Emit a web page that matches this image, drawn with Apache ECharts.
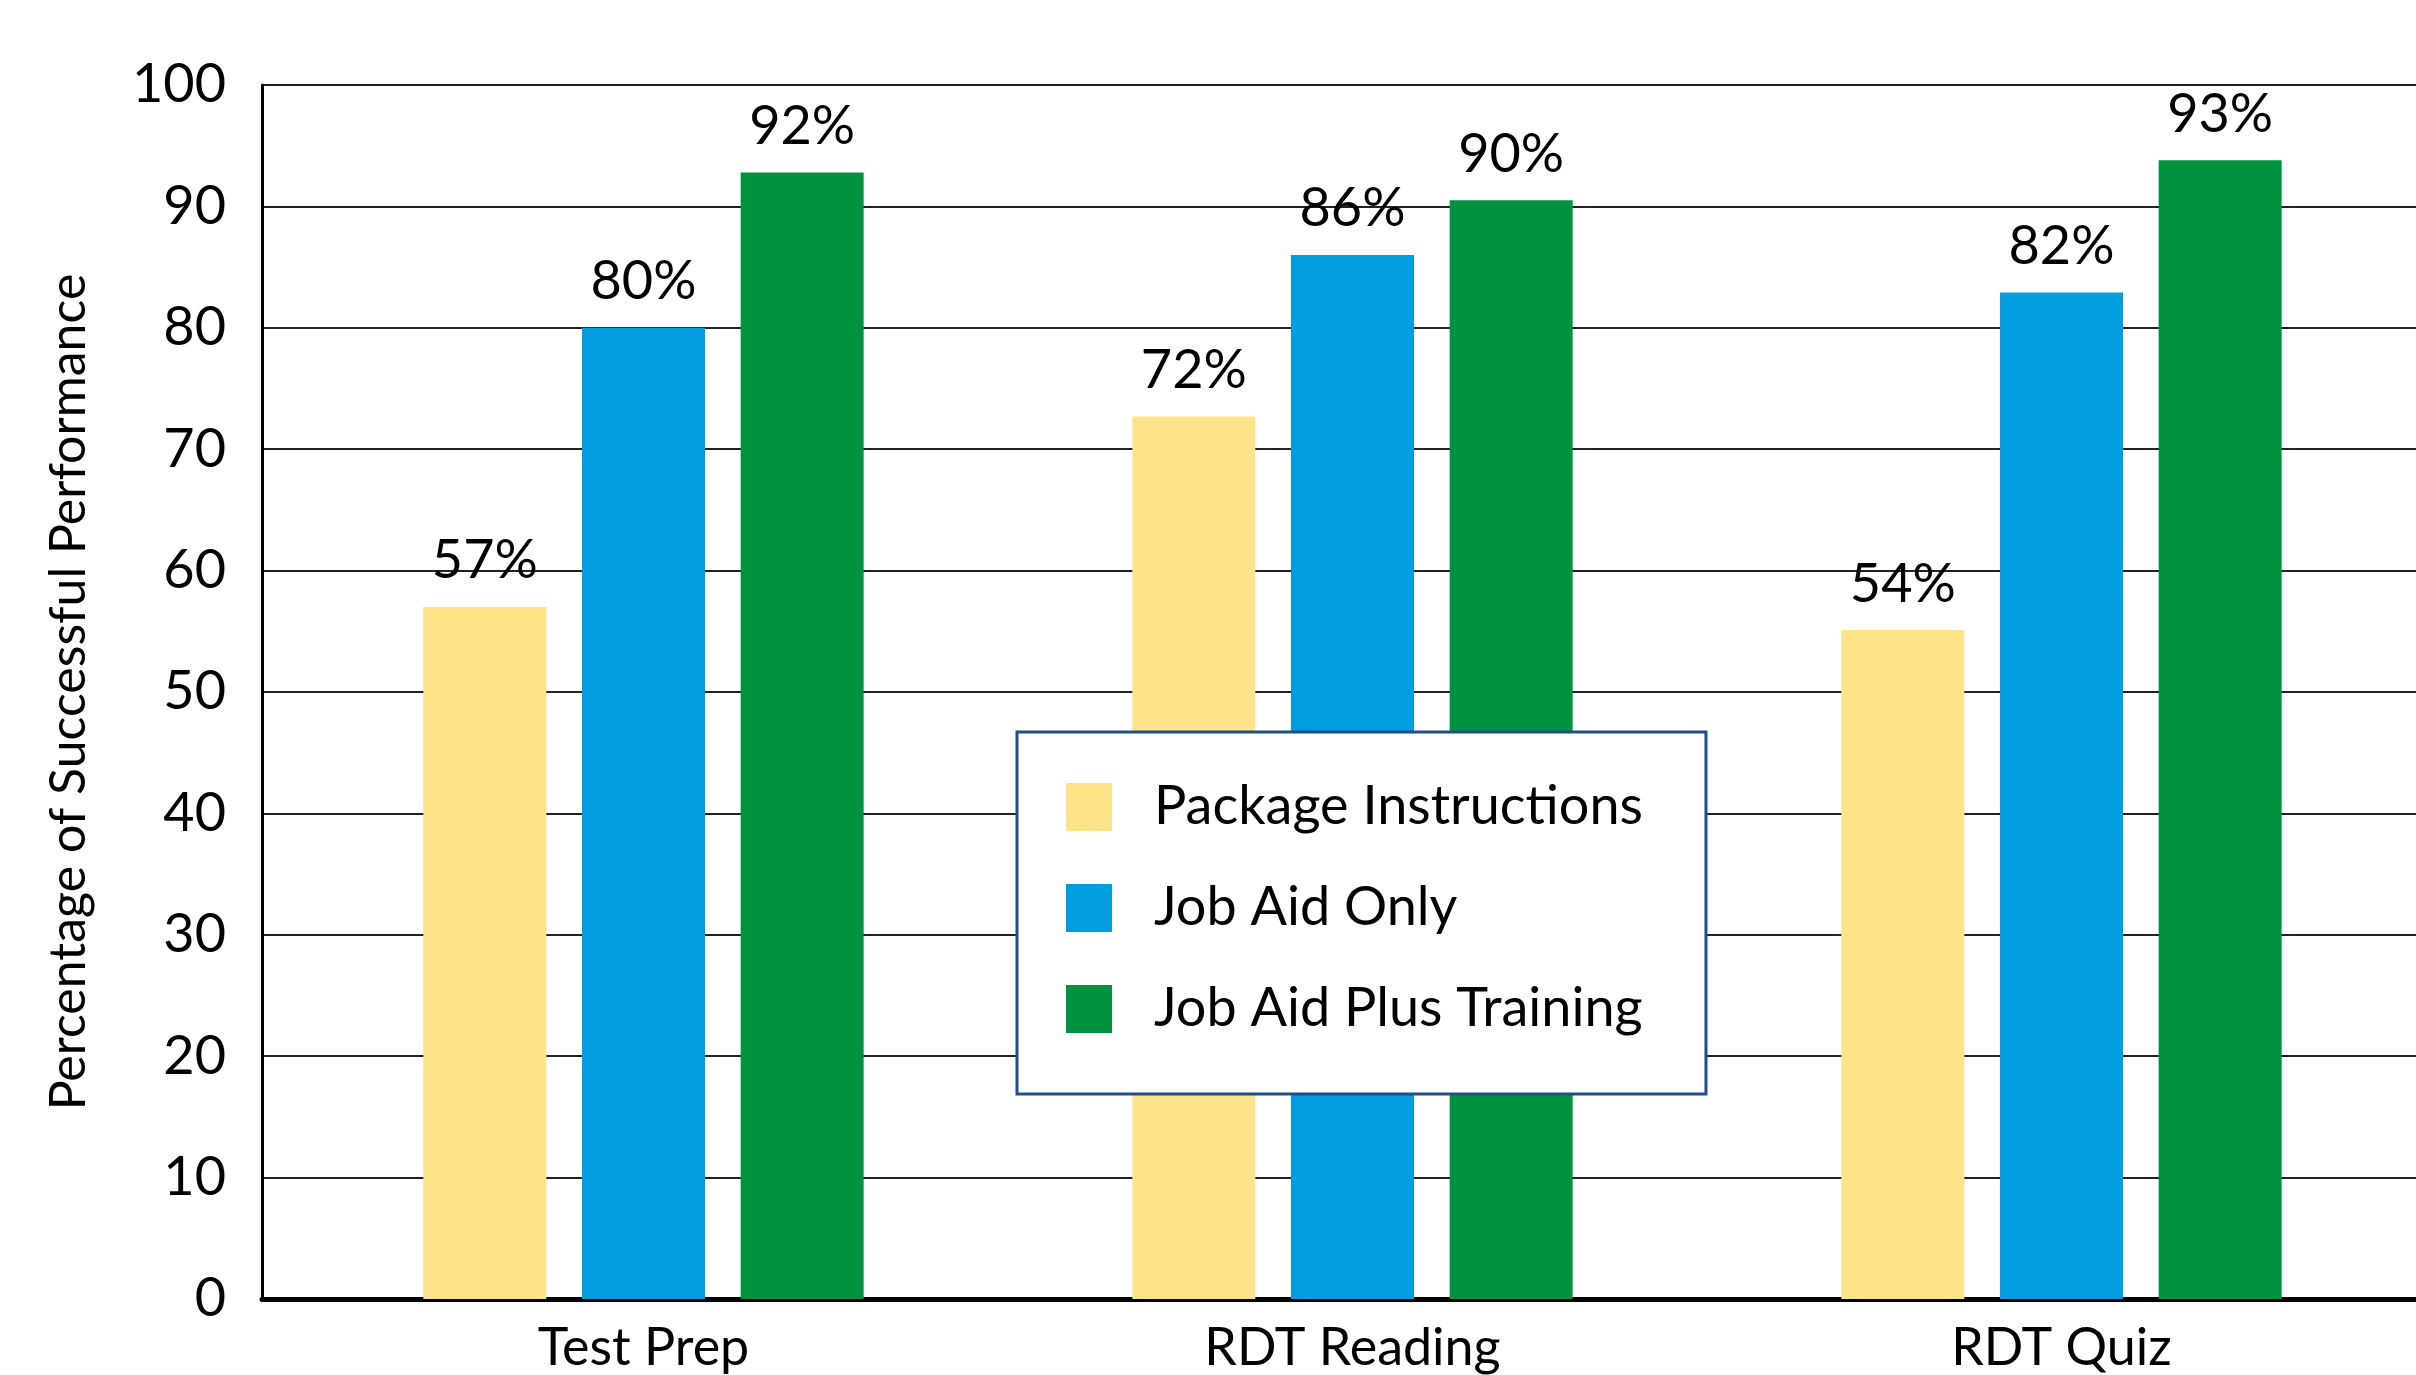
<!DOCTYPE html>
<html>
<head>
<meta charset="utf-8">
<script src="https://cdn.jsdelivr.net/npm/echarts@6/dist/echarts.min.js"></script>
<style>
html, body { margin: 0; padding: 0; background: #fff; }
#main { width: 2416px; height: 1375px; }
</style>
</head>
<body>
<div id="main"></div>
<script>
var myChart = echarts.init(document.getElementById('main'));

var categories = ['Test Prep', 'RDT Reading', 'RDT Quiz'];
var seriesNames = ['Package Instructions', 'Job Aid Only', 'Job Aid Plus Training'];
// bar heights
var packageValues = [57, 72.7, 55.1];
var jobAidValues = [80, 86, 82.9];
var trainingValues = [92.8, 90.5, 93.8];
// printed value labels
var packageLabels = ['57%', '72%', '54%'];
var jobAidLabels = ['80%', '86%', '82%'];
var trainingLabels = ['92%', '90%', '93%'];
var colors = ['#FEE388', '#019DDE', '#00933F'];

var font = 'Lato, "Open Sans", sans-serif';

function barSeries(name, values, labels, color) {
  return {
    name: name,
    type: 'bar',
    xAxisIndex: 0,
    yAxisIndex: 0,
    data: values,
    barWidth: 123,
    barGap: '29%',
    itemStyle: { color: color },
    label: {
      show: true,
      position: 'top',
      distance: 19,
      color: '#000',
      fontFamily: font,
      fontSize: 54,
      formatter: function (p) { return labels[p.dataIndex]; }
    }
  };
}

var option = {
  animation: false,
  backgroundColor: '#fff',
  textStyle: { fontFamily: font },
  grid: [
    { left: 289, width: 2144, top: 85, bottom: 76 },
    { left: 262, right: 0, top: 85, bottom: 76 }
  ],
  legend: {
    orient: 'vertical',
    left: 1017,
    top: 732,
    data: seriesNames,
    icon: 'rect',
    itemWidth: 46,
    itemHeight: 48,
    itemGap: 47,
    padding: [48, 63, 58, 49],
    backgroundColor: '#fff',
    borderColor: '#1F4E8C',
    borderWidth: 3,
    textStyle: { color: '#000', fontSize: 54, fontFamily: font, padding: [0, 0, 0, 37] }
  },
  xAxis: [
    {
      type: 'category',
      gridIndex: 0,
      data: categories,
      axisLine: { show: false },
      axisTick: { show: false },
      axisLabel: { color: '#000', fontSize: 52, fontFamily: font, margin: 23 }
    },
    {
      type: 'value',
      gridIndex: 1,
      min: 0,
      max: 1,
      axisLine: { show: true, lineStyle: { color: '#000', width: 5 } },
      axisTick: { show: false },
      axisLabel: { show: false },
      splitLine: { show: false }
    }
  ],
  yAxis: [
    {
      type: 'value',
      gridIndex: 0,
      min: 0,
      max: 100,
      interval: 10,
      show: false,
      splitLine: { show: false }
    },
    {
      type: 'value',
      gridIndex: 1,
      min: 0,
      max: 100,
      interval: 10,
      name: 'Percentage of Successful Performance',
      nameLocation: 'middle',
      nameGap: 168,
      nameTextStyle: { color: '#000', fontSize: 50, fontFamily: font },
      axisLine: { show: true, lineStyle: { color: '#000', width: 3 } },
      axisTick: { show: false },
      axisLabel: { color: '#000', fontSize: 54, fontFamily: font, margin: 36 },
      splitLine: { show: true, lineStyle: { color: '#222', width: 2 } }
    }
  ],
  series: [
    barSeries(seriesNames[0], packageValues, packageLabels, colors[0]),
    barSeries(seriesNames[1], jobAidValues, jobAidLabels, colors[1]),
    barSeries(seriesNames[2], trainingValues, trainingLabels, colors[2])
  ]
};

myChart.setOption(option);
</script>
</body>
</html>
